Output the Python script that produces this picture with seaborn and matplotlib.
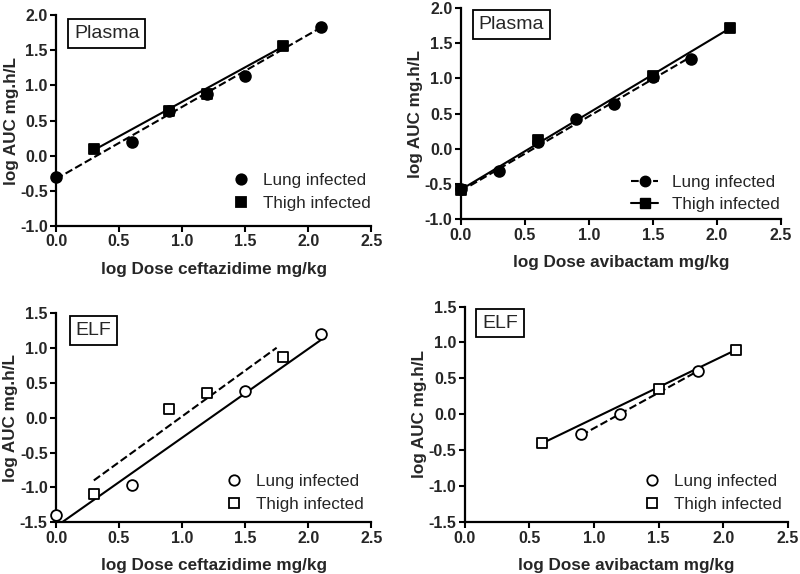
import numpy as np
import pandas as pd
import matplotlib
matplotlib.use('Agg')
import matplotlib.pyplot as plt
import seaborn as sns
from matplotlib.lines import Line2D

# Plasma, ceftazidime
caz_plasma_lung_x = [0.0, 0.6, 0.9, 1.2, 1.5, 2.1]
caz_plasma_lung_y = [-0.30, 0.20, 0.64, 0.88, 1.13, 1.83]
caz_plasma_thigh_x = [0.3, 0.9, 1.2, 1.8]
caz_plasma_thigh_y = [0.10, 0.64, 0.88, 1.56]
caz_plasma_lung_fit = ([0.0, 2.1], [-0.33, 1.82])
caz_plasma_thigh_fit = ([0.3, 1.8], [0.08, 1.55])

# Plasma, avibactam
avi_plasma_lung_x = [0.0, 0.3, 0.6, 0.9, 1.2, 1.5, 1.8]
avi_plasma_lung_y = [-0.57, -0.32, 0.10, 0.42, 0.63, 1.02, 1.28]
avi_plasma_thigh_x = [0.0, 0.6, 1.5, 2.1]
avi_plasma_thigh_y = [-0.58, 0.12, 1.03, 1.71]
avi_plasma_lung_fit = ([0.0, 1.8], [-0.60, 1.31])
avi_plasma_thigh_fit = ([0.0, 2.1], [-0.58, 1.71])

# ELF, ceftazidime
caz_elf_lung_x = [0.0, 0.6, 1.5, 2.1]
caz_elf_lung_y = [-1.40, -0.96, 0.38, 1.19]
caz_elf_thigh_x = [0.3, 0.9, 1.2, 1.8]
caz_elf_thigh_y = [-1.10, 0.12, 0.35, 0.87]
caz_elf_lung_fit = ([0.0, 2.1], [-1.56, 1.11])
caz_elf_thigh_fit = ([0.3, 1.75], [-0.90, 1.00])

# ELF, avibactam
avi_elf_lung_x = [0.9, 1.2, 1.8]
avi_elf_lung_y = [-0.27, 0.00, 0.61]
avi_elf_thigh_x = [0.6, 1.5, 2.1]
avi_elf_thigh_y = [-0.40, 0.36, 0.90]
avi_elf_lung_fit = ([0.9, 1.8], [-0.29, 0.60])
avi_elf_thigh_fit = ([0.6, 2.1], [-0.40, 0.90])

sns.set_style('ticks')
plt.rcParams['font.family'] = ['Liberation Sans', 'DejaVu Sans']

fig = plt.figure(figsize=(8, 5.74), dpi=100)
ax1 = fig.add_axes([0.070, 0.606, 0.394, 0.368])
ax2 = fig.add_axes([0.576, 0.618, 0.400, 0.368])
ax3 = fig.add_axes([0.070, 0.090, 0.394, 0.365])
ax4 = fig.add_axes([0.581, 0.090, 0.404, 0.376])


def draw_panel(ax, lung_x, lung_y, thigh_x, thigh_y, lung_fit, thigh_fit,
               lung_ls, thigh_ls, filled, label, xlabel, ylim,
               box_xy, legend_xy, legend_lines=False):
    face = 'black' if filled else 'white'
    sns.lineplot(x=lung_fit[0], y=lung_fit[1], ax=ax, color='black',
                 linestyle=lung_ls, linewidth=1.5)
    sns.lineplot(x=thigh_fit[0], y=thigh_fit[1], ax=ax, color='black',
                 linestyle=thigh_ls, linewidth=1.5)
    sns.scatterplot(x=lung_x, y=lung_y, ax=ax, marker='o', s=60,
                    facecolor=face, edgecolor='black', linewidth=1.3,
                    zorder=3, clip_on=False)
    sns.scatterplot(x=thigh_x, y=thigh_y, ax=ax, marker='s', s=60,
                    facecolor=face, edgecolor='black', linewidth=1.3,
                    zorder=4, clip_on=False)
    ax.set_xlim(0, 2.5)
    ax.set_ylim(*ylim)
    ax.set_xticks(np.arange(0, 2.51, 0.5))
    ax.set_yticks(np.arange(ylim[0], ylim[1] + 0.01, 0.5))
    ax.xaxis.set_major_formatter(plt.FormatStrFormatter('%.1f'))
    ax.yaxis.set_major_formatter(plt.FormatStrFormatter('%.1f'))
    for lab in ax.get_xticklabels() + ax.get_yticklabels():
        lab.set_fontweight('bold')
        lab.set_fontsize(11.5)
    ax.tick_params(direction='out', length=4, width=1.5, color='black',
                   pad=2)
    for s in ['left', 'bottom']:
        ax.spines[s].set_linewidth(1.6)
        ax.spines[s].set_color('black')
    sns.despine(ax=ax)
    ax.set_xlabel(xlabel, fontweight='bold', fontsize=12.3, labelpad=9)
    ax.set_ylabel('log AUC mg.h/L', fontweight='bold', fontsize=12.3,
                  labelpad=1)
    # label box: box_xy is the top-left corner of the box
    ax.annotate(label, xy=box_xy, xycoords='axes fraction',
                xytext=(4.2, -4.2), textcoords='offset points',
                fontsize=14, va='top', ha='left',
                bbox=dict(boxstyle='square,pad=0.3', facecolor='white',
                          edgecolor='black', linewidth=1.3))
    if legend_lines:
        handles = [
            Line2D([], [], color='black', linestyle=lung_ls, marker='o',
                   markerfacecolor=face, markersize=7.5, linewidth=1.5),
            Line2D([], [], color='black', linestyle=thigh_ls, marker='s',
                   markerfacecolor=face, markersize=7.5, linewidth=1.5)]
        hl = 1.6
    else:
        handles = [
            Line2D([], [], color='black', linestyle='none', marker='o',
                   markerfacecolor=face, markersize=7.5,
                   markeredgewidth=1.3),
            Line2D([], [], color='black', linestyle='none', marker='s',
                   markerfacecolor=face, markersize=7.5,
                   markeredgewidth=1.3)]
        hl = 1.0
    ax.legend(handles, ['Lung infected', 'Thigh infected'],
              loc='lower right', bbox_to_anchor=legend_xy, frameon=False,
              fontsize=12.3, handlelength=hl, handletextpad=0.8,
              labelspacing=0.45, borderaxespad=0)


draw_panel(ax1, caz_plasma_lung_x, caz_plasma_lung_y, caz_plasma_thigh_x,
           caz_plasma_thigh_y, caz_plasma_lung_fit, caz_plasma_thigh_fit,
           '--', '-', True, 'Plasma', 'log Dose ceftazidime mg/kg', (-1.0, 2.0),
           (0.039, 0.981), (1.021, 0.040))
draw_panel(ax2, avi_plasma_lung_x, avi_plasma_lung_y, avi_plasma_thigh_x,
           avi_plasma_thigh_y, avi_plasma_lung_fit, avi_plasma_thigh_fit,
           '--', '-', True, 'Plasma', 'log Dose avibactam mg/kg', (-1.0, 2.0),
           (0.038, 0.99), (1.018, 0.0), legend_lines=True)
draw_panel(ax3, caz_elf_lung_x, caz_elf_lung_y, caz_elf_thigh_x,
           caz_elf_thigh_y, caz_elf_lung_fit, caz_elf_thigh_fit,
           '-', '--', False, 'ELF', 'log Dose ceftazidime mg/kg', (-1.5, 1.5),
           (0.044, 0.985), (0.999, 0.016))
draw_panel(ax4, avi_elf_lung_x, avi_elf_lung_y, avi_elf_thigh_x,
           avi_elf_thigh_y, avi_elf_lung_fit, avi_elf_thigh_fit,
           '--', '-', False, 'ELF', 'log Dose avibactam mg/kg', (-1.5, 1.5),
           (0.036, 0.99), (1.001, 0.016))

fig.savefig('out.png', dpi=100)
